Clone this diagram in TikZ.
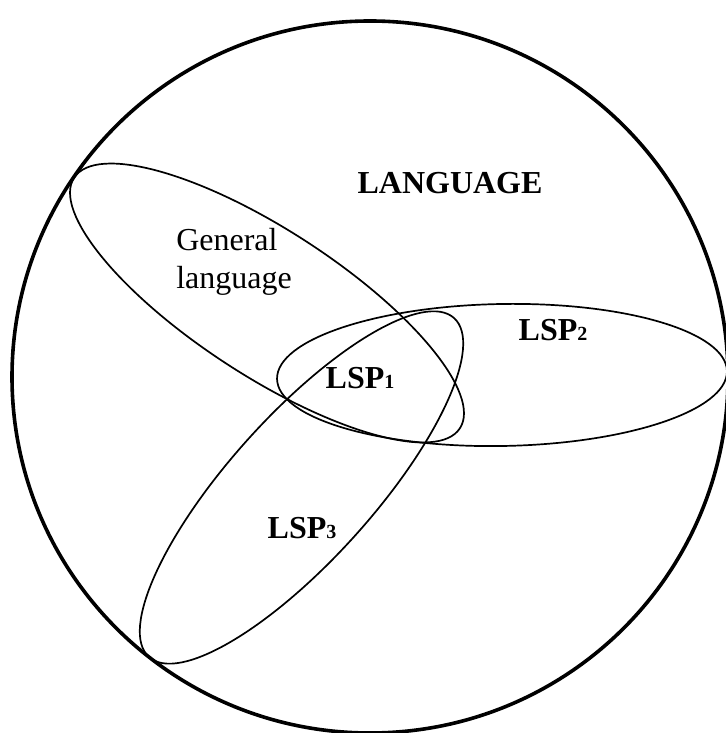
\documentclass[tikz,border=0pt]{standalone}
\usepackage{fontspec}
\setmainfont{Liberation Serif}
\newcommand{\lspname}[1]{\textbf{LSP{\fontsize{10}{12}\selectfont #1}}}

\begin{document}
\begin{tikzpicture}[x=0.5pt,y=0.5pt,every node/.style={font=\fontsize{16}{19}\selectfont}]
  \useasboundingbox (0,0) rectangle (726,733);
  % the whole language
  \draw[line width=1.8pt] (370,356) ellipse (358 and 356);
  % general language, LSP2, LSP3
  \draw[line width=0.85pt,rotate around={-33:(267,430)}] (267,430) ellipse (230 and 73);
  \draw[line width=0.85pt,rotate around={1:(502,358)}] (502,358) ellipse (225 and 71);
  \draw[line width=0.85pt,rotate around={48:(301.5,245.5)}] (301.5,245.5) ellipse (228 and 72);

  \node (lang) at (450,550) {\textbf{LANGUAGE}};
  \node[align=left] (gen) at (234,471) {General\\language};
  \node (lspa) at (360,355) {\lspname{1}};
  \node (lspb) at (553,403) {\lspname{2}};
  \node (lspc) at (302,205) {\lspname{3}};
\end{tikzpicture}
\end{document}
